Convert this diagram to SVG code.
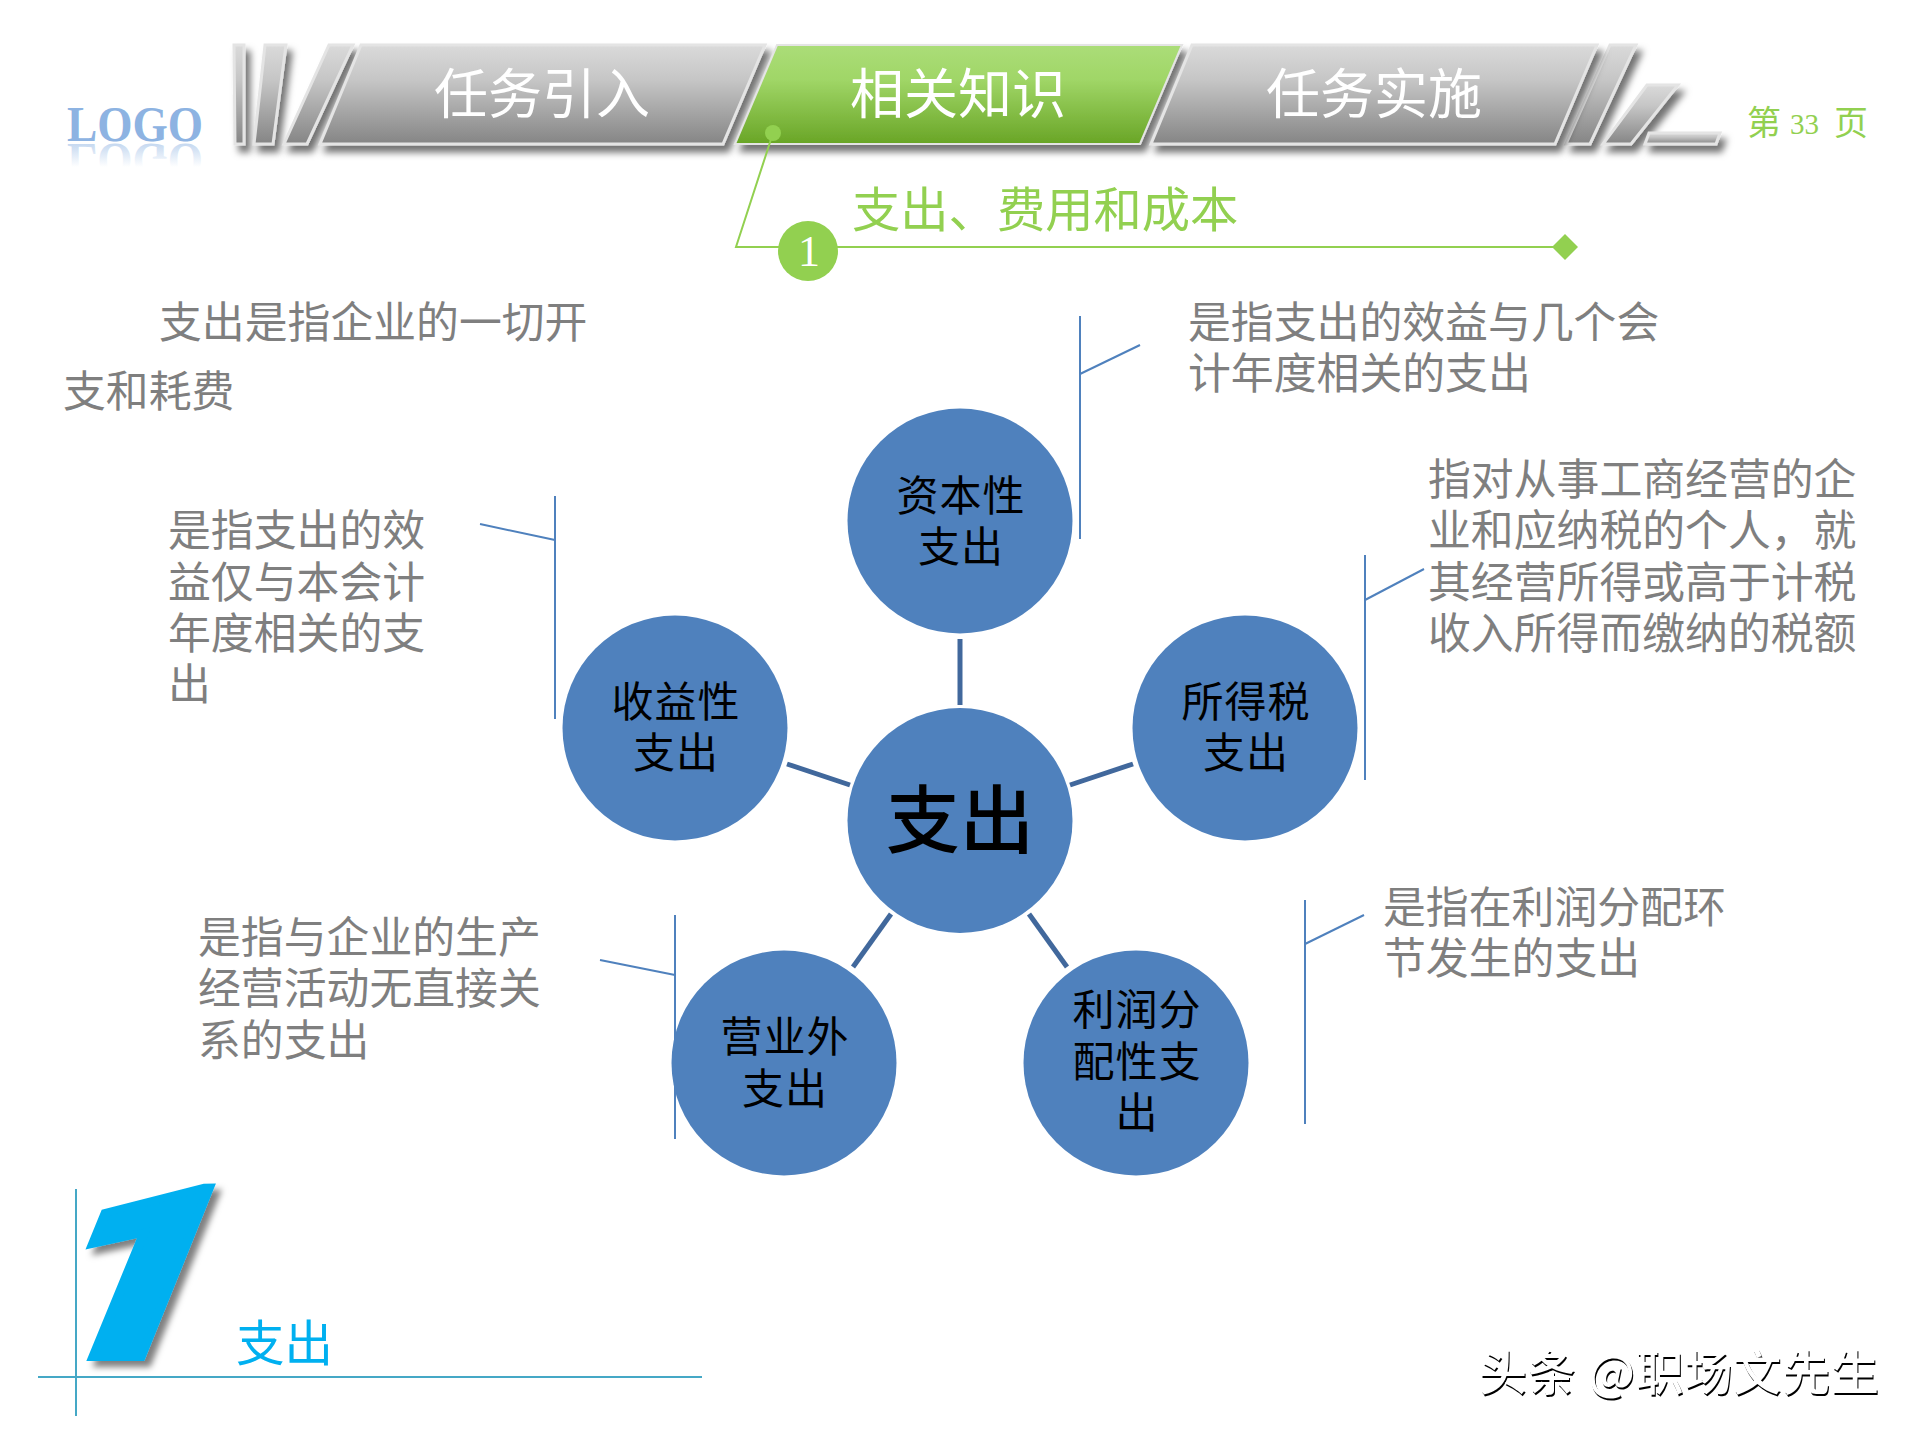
<svg xmlns="http://www.w3.org/2000/svg" width="1920" height="1440" viewBox="0 0 1920 1440">
<style>
text{font-family:"Noto Sans CJK SC","Liberation Sans",sans-serif}
.body{font-size:42.85px;fill:#7f7f7f}
.tab{font-size:54px;fill:#fff;text-anchor:middle}
.gray{fill:url(#grayG);stroke:#e4e4e4;stroke-width:3;filter:url(#sh)}
.node circle{fill:#4f81bd}
.node text{font-size:42px;fill:#000;text-anchor:middle;letter-spacing:1px}
.conn{stroke:#41689c;stroke-width:5;fill:none}
.br{stroke:#4f81bd;stroke-width:2;fill:none}
.gr{fill:#92d050}
</style>
<defs>
<linearGradient id="grayG" x1="0" y1="0" x2="0" y2="1"><stop offset="0" stop-color="#dadada"/><stop offset=".35" stop-color="#c6c6c6"/><stop offset="1" stop-color="#858585"/></linearGradient>
<linearGradient id="greenG" x1="0" y1="0" x2="0" y2="1"><stop offset="0" stop-color="#abdd78"/><stop offset=".35" stop-color="#a0d667"/><stop offset="1" stop-color="#69a526"/></linearGradient>
<linearGradient id="fade" gradientUnits="userSpaceOnUse" x1="0" y1="141" x2="0" y2="118"><stop offset="0" stop-color="#8db3e2" stop-opacity=".5"/><stop offset="1" stop-color="#8db3e2" stop-opacity="0"/></linearGradient>
<filter id="sh" filterUnits="userSpaceOnUse" x="200" y="20" width="1560" height="160"><feDropShadow dx="5" dy="7" stdDeviation="3.5" flood-color="#000" flood-opacity=".55"/></filter>
<filter id="sh1" filterUnits="userSpaceOnUse" x="40" y="1150" width="260" height="260"><feDropShadow dx="6" dy="6" stdDeviation="3" flood-color="#000" flood-opacity=".5"/></filter>
<filter id="cut" x="-5%" y="-10%" width="110%" height="120%"><feOffset in="SourceGraphic" dx="-1" dy="-2" result="o"/><feComposite in="SourceGraphic" in2="o" operator="out"/></filter>
<text id="logoT" x="67" y="141" font-size="50" font-weight="700" textLength="136" lengthAdjust="spacingAndGlyphs" style="font-family:'Liberation Serif',serif">LOGO</text>
</defs>

<g id="logo">
<use href="#logoT" fill="#8db3e2"/>
<use href="#logoT" fill="url(#fade)" transform="matrix(1 0 0 -1 0 285)"/>
</g>

<g id="header-stripes">
<polygon class="gray" points="234,45 244,45 244,144 235,144"/>
<polygon class="gray" points="265,45 286,45 273,144 254,144"/>
<polygon class="gray" points="329,45 353,45 307,144 284,144"/>
<polygon class="gray" points="1610,45 1636,45 1590,144 1566,144"/>
<polygon class="gray" points="1647,85 1678,85 1631,144 1603,144"/>
<polygon class="gray" points="1649,133 1720,133 1716,144 1645,144"/>
</g>
<g id="tab1"><polygon class="gray" points="361,45 765,45 723,144 320,144"/><text class="tab" x="542" y="114">任务引入</text></g>
<g id="tab2"><polygon fill="url(#greenG)" stroke="#e4e4e4" stroke-width="2" filter="url(#sh)" points="777,45 1182,45 1140,144 735,144"/><text class="tab" x="958" y="114">相关知识</text></g>
<g id="tab3"><polygon class="gray" points="1192,45 1597,45 1555,144 1151,144"/><text class="tab" x="1374" y="114">任务实施</text></g>

<g id="page"><text x="1747" y="135" font-size="34" class="gr">第</text><text x="1790" y="134" font-size="30" class="gr" textLength="29" lengthAdjust="spacingAndGlyphs" style="font-family:'Liberation Serif',serif">33</text><text x="1834" y="135" font-size="34" class="gr">页</text></g>

<g id="subtitle">
<polyline points="773,133 736,247 1560,247" fill="none" stroke="#92d050" stroke-width="2"/>
<circle class="gr" cx="773" cy="133" r="8"/>
<polygon class="gr" points="1565,234 1578,247 1565,260 1552,247"/>
<circle class="gr" cx="808" cy="251" r="30"/>
<text x="809" y="266" font-size="44" fill="#fff" text-anchor="middle" style="font-family:'Liberation Serif',serif">1</text>
<text x="852" y="227" font-size="48.3" class="gr">支出、费用和成本</text>
</g>

<g id="connectors">
<line class="conn" x1="960" y1="639" x2="960" y2="705"/>
<line class="conn" x1="1070" y1="785" x2="1133" y2="764"/>
<line class="conn" x1="850" y1="785" x2="787" y2="764"/>
<line class="conn" x1="891" y1="914" x2="853" y2="967"/>
<line class="conn" x1="1029" y1="914" x2="1067" y2="967"/>
<polyline class="br" points="1080,316 1080,539"/><line class="br" x1="1080" y1="374" x2="1140" y2="345"/>
<polyline class="br" points="555,496 555,719"/><line class="br" x1="480" y1="524" x2="555" y2="540"/>
<polyline class="br" points="1365,555 1365,780"/><line class="br" x1="1365" y1="600" x2="1424" y2="569"/>
<polyline class="br" points="675,915 675,1139"/><line class="br" x1="600" y1="960" x2="675" y2="975"/>
<polyline class="br" points="1305,900 1305,1124"/><line class="br" x1="1305" y1="944" x2="1364" y2="915"/>
</g>

<g id="node-center" class="node"><circle cx="960" cy="820.5" r="112.5"/><text x="960" y="847" style="font-size:74px;letter-spacing:0" font-weight="500">支出</text></g>
<g id="node-capital" class="node"><circle cx="960" cy="521" r="112.5"/><text x="961" y="511">资本性</text><text x="961" y="562">支出</text></g>
<g id="node-tax" class="node"><circle cx="1245" cy="728" r="112.5"/><text x="1246" y="717">所得税</text><text x="1246" y="768">支出</text></g>
<g id="node-revenue" class="node"><circle cx="675" cy="728" r="112.5"/><text x="676" y="717">收益性</text><text x="676" y="768">支出</text></g>
<g id="node-nonop" class="node"><circle cx="784" cy="1063" r="112.5"/><text x="785" y="1052">营业外</text><text x="785" y="1104">支出</text></g>
<g id="node-profit" class="node"><circle cx="1136" cy="1063" r="112.5"/><text x="1137" y="1025">利润分</text><text x="1137" y="1077">配性支</text><text x="1137" y="1128">出</text></g>

<g id="texts">
<text class="body" x="159" y="338">支出是指企业的一切开</text>
<text class="body" x="63" y="407">支和耗费</text>
<text class="body" x="1188" y="338">是指支出的效益与几个会</text>
<text class="body" x="1188" y="389">计年度相关的支出</text>
<text class="body" x="1428" y="495">指对从事工商经营的企</text>
<text class="body" x="1428" y="546">业和应纳税的个人，就</text>
<text class="body" x="1428" y="598">其经营所得或高于计税</text>
<text class="body" x="1428" y="649">收入所得而缴纳的税额</text>
<text class="body" x="168" y="546">是指支出的效</text>
<text class="body" x="168" y="598">益仅与本会计</text>
<text class="body" x="168" y="649">年度相关的支</text>
<text class="body" x="168" y="700">出</text>
<text class="body" x="198" y="953">是指与企业的生产</text>
<text class="body" x="198" y="1004">经营活动无直接关</text>
<text class="body" x="198" y="1056">系的支出</text>
<text class="body" x="1383" y="923">是指在利润分配环</text>
<text class="body" x="1383" y="974">节发生的支出</text>
</g>

<g id="section">
<line x1="76" y1="1189" x2="76" y2="1416" stroke="#45a8c6" stroke-width="2"/>
<line x1="38" y1="1377" x2="702" y2="1377" stroke="#45a8c6" stroke-width="2"/>
<g filter="url(#sh1)"><text transform="translate(38,1357) skewX(-11) scale(1.25,1)" font-size="238" font-weight="900" font-style="italic" fill="#00b0f0" stroke="#00b0f0" stroke-width="8" style="font-family:Roboto,sans-serif">1</text></g>
<text x="236" y="1361" font-size="48.5" fill="#00b0f0">支出</text>
</g>

<text id="watermark" x="1480" y="1392" font-size="48" fill="#000" filter="url(#cut)" font-weight="500" textLength="400">头条 @职场文先生</text>
</svg>
